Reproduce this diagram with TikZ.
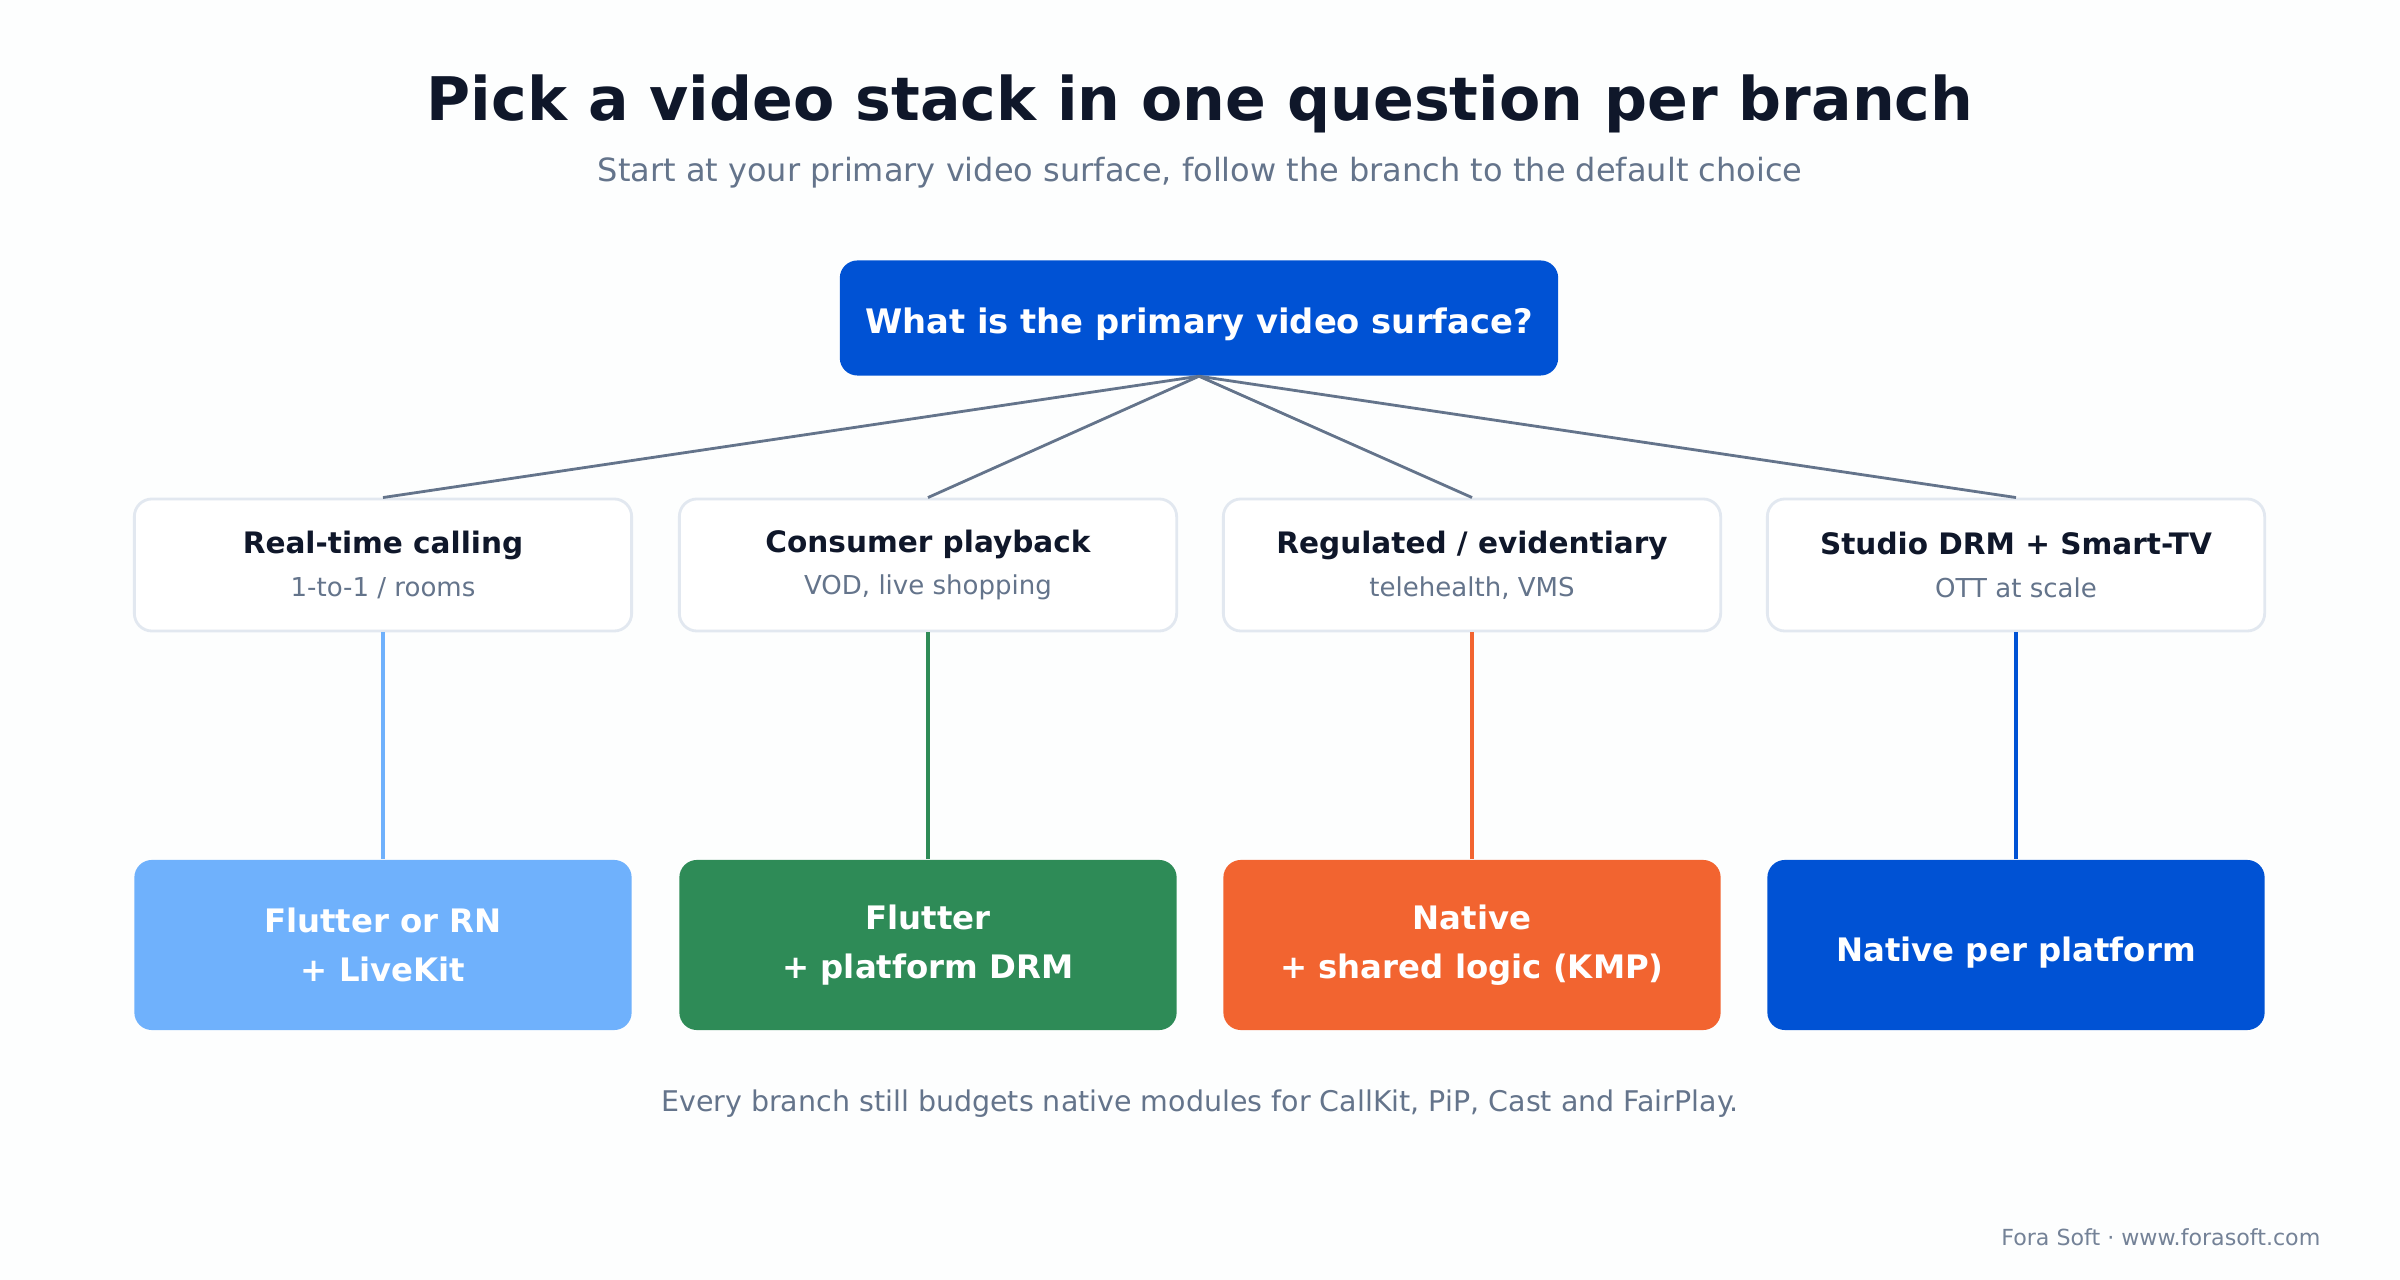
\documentclass[tikz,border=0pt]{standalone}
\usepackage{fontspec}
\setmainfont{DejaVu Sans}
\usepackage{xcolor}
\usepackage{tikz}
\usetikzlibrary{positioning}

\definecolor{ink}{HTML}{0F172A}
\definecolor{slate}{HTML}{64748B}
\definecolor{edgegray}{HTML}{E2E8F0}
\definecolor{rootblue}{HTML}{0052D4}
\definecolor{skyblue}{HTML}{6FB1FC}
\definecolor{seagreen}{HTML}{2E8B57}
\definecolor{flame}{HTML}{F26430}

\newcommand{\branchtext}[2]{{\fontsize{8.4}{12.2}\selectfont\bfseries\color{ink}#1}\\{\fontsize{7.4}{12.2}\selectfont\color{slate}#2}}

\begin{document}
\begin{tikzpicture}[x=0.01cm,y=-0.01cm,
    branchbox/.style={draw=edgegray,line width=0.8pt,fill=white,rounded corners=5pt,
        minimum width=4.97cm,minimum height=1.32cm,align=center,font=\fontsize{8.4}{12.2}\selectfont},
    pickbox/.style={rounded corners=5pt,minimum width=4.97cm,minimum height=1.70cm,
        align=center,text=white,font=\fontsize{9.2}{13.8}\selectfont\bfseries},
    link/.style={draw=slate,line width=0.8pt},
    stem/.style={line width=1.1pt}]
    % Canvas
    \fill[white!99!slate] (0,0) rectangle (2400,1280);

    % Headings
    \node[text=ink,font=\fontsize{17.1}{20}\selectfont\bfseries] (title) at (1200,104) {Pick a video stack in one question per branch};
    \node[text=slate,font=\fontsize{9.1}{11}\selectfont] (subtitle) at (1200,173) {Start at your primary video surface, follow the branch to the default choice};

    % Question
    \node[fill=rootblue,rounded corners=5pt,minimum width=7.18cm,minimum height=1.15cm,
        text=white,font=\fontsize{9.6}{11}\selectfont\bfseries] (root) at (1199,318) {};
    \node[text=white,font=\fontsize{9.6}{11}\selectfont\bfseries] (question) at (1199,324) {What is the primary video surface?};

    % Branches
    \node[branchbox] (calling) at (383,565) {\branchtext{Real-time calling}{1-to-1 / rooms}};
    \node[branchbox] (playback) at (928,565) {\branchtext{Consumer playback}{VOD, live shopping}};
    \node[branchbox] (regulated) at (1472,565) {\branchtext{Regulated / evidentiary}{telehealth, VMS}};
    \node[branchbox] (studio) at (2016,565) {\branchtext{Studio DRM + Smart-TV}{OTT at scale}};

    % Defaults
    \node[pickbox,fill=skyblue] (livekit) at (383,945) {Flutter or RN\\+ LiveKit};
    \node[pickbox,fill=seagreen] (drm) at (928,945) {Flutter\\+ platform DRM};
    \node[pickbox,fill=flame] (kmp) at (1472,945) {Native\\+ shared logic (KMP)};
    \node[pickbox,fill=rootblue] (native) at (2016,945) {};
    \node[text=white,font=\fontsize{9.2}{13.8}\selectfont\bfseries] (nativetext) at (2016,953) {Native per platform};

    % Fan-out from the question
    \foreach \b in {calling,playback,regulated,studio}
        \draw[link] (root.south) -- (\b.north);

    % Stems down to the defaults
    \draw[stem,skyblue] (calling.south) -- (livekit.north);
    \draw[stem,seagreen] (playback.south) -- (drm.north);
    \draw[stem,flame] (regulated.south) -- (kmp.north);
    \draw[stem,rootblue] (studio.south) -- (native.north);

    % Notes
    \node[text=slate,font=\fontsize{8.1}{9}\selectfont] (note) at (1200,1104) {Every branch still budgets native modules for CallKit, PiP, Cast and FairPlay.};
    \node[anchor=east,inner sep=0pt,text=slate!90!white,font=\fontsize{6.3}{7}\selectfont] (credit) at (2321,1237) {Fora Soft · www.forasoft.com};
\end{tikzpicture}
\end{document}
